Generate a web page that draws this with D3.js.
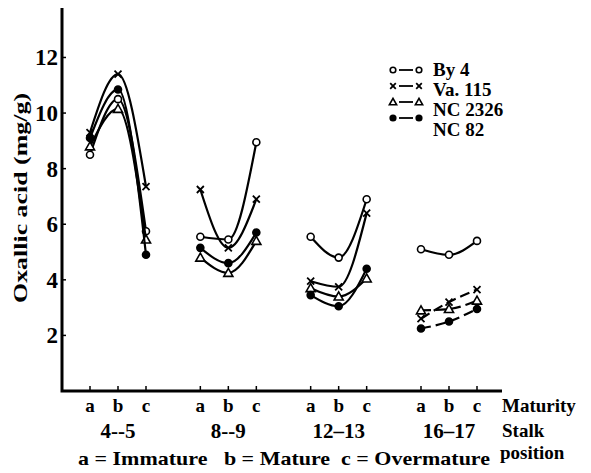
<!DOCTYPE html>
<html>
<head>
<meta charset="utf-8">
<script src="https://cdn.jsdelivr.net/npm/d3@7"></script>
<style>
  body { margin: 0; background: #fff; }
  svg text { font-family: "Liberation Serif", "Times New Roman", serif; font-weight: bold; fill: #000; }
</style>
</head>
<body>
<div id="chart"></div>
<script>
// stalk position groups and maturity stages
const groups = ["4--5", "8--9", "12\u201313", "16\u201317"];
const maturity = ["a", "b", "c"];
const yTicks = [2, 4, 6, 8, 10, 12];

// oxallic acid (mg/g), per group a,b,c
const by4    = [8.5, 10.5, 5.75,  5.55, 5.45, 8.95,  5.55, 4.8, 6.9,   5.1, 4.9, 5.4];
const va115  = [9.3, 11.4, 7.35,  7.25, 5.15, 6.9,   3.95, 3.75, 6.4,  2.6, 3.2, 3.65];
const nc2326 = [8.8, 10.15, 5.45, 4.8, 4.25, 5.4,    3.7, 3.4, 4.05,   2.9, 2.95, 3.25];
const nc82   = [9.1, 10.85, 4.9,  5.15, 4.6, 5.7,    3.45, 3.05, 4.4,  2.25, 2.5, 2.95];

const series = [
  {name: "By 4", values: by4, marker: "circle"},
  {name: "Va. 115", values: va115, marker: "cross"},
  {name: "NC 2326", values: nc2326, marker: "triangle"},
  {name: "NC 82", values: nc82, marker: "dot"}
];

const width = 591, height = 473;
const svg = d3.select("#chart").append("svg")
  .attr("width", width)
  .attr("height", height);

const xGroup = d3.scalePoint().domain(groups).range([118, 449]);
const xStage = d3.scalePoint().domain(maturity).range([-28, 28]);
const y = d3.scaleLinear().domain([0, 13.78]).range([391, 8]);
const x = (g, m) => xGroup(g) + xStage(m);

// axes
svg.append("path")
  .attr("d", `M62,8 L62,391 L502,391`)
  .attr("fill", "none")
  .attr("stroke", "#000")
  .attr("stroke-width", 3);

svg.selectAll(".ytick").data(yTicks).enter().append("line")
  .attr("x1", 62).attr("x2", 66)
  .attr("y1", d => y(d)).attr("y2", d => y(d))
  .attr("stroke", "#000").attr("stroke-width", 1.5);

svg.selectAll(".ylab").data(yTicks).enter().append("text")
  .attr("x", 58).attr("y", d => y(d) + 8)
  .attr("text-anchor", "end")
  .attr("font-size", 23)
  .text(d => d);

svg.append("text")
  .attr("transform", "translate(27,198) rotate(-90)")
  .attr("text-anchor", "middle")
  .attr("font-size", 19)
  .attr("textLength", 210)
  .attr("lengthAdjust", "spacingAndGlyphs")
  .text("Oxallic acid (mg/g)");

const cells = [];
groups.forEach(g => maturity.forEach(m => cells.push({g, m})));

svg.selectAll(".xtick").data(cells).enter().append("line")
  .attr("x1", d => x(d.g, d.m)).attr("x2", d => x(d.g, d.m))
  .attr("y1", 391).attr("y2", 386)
  .attr("stroke", "#000").attr("stroke-width", 1.5);

svg.selectAll(".xlab").data(cells).enter().append("text")
  .attr("x", d => x(d.g, d.m)).attr("y", 412)
  .attr("text-anchor", "middle")
  .attr("font-size", 19)
  .text(d => d.m);

svg.selectAll(".glab").data(groups).enter().append("text")
  .attr("x", d => xGroup(d)).attr("y", 438)
  .attr("text-anchor", "middle")
  .attr("font-size", 21)
  .text(d => d);

svg.append("text").attr("x", 502).attr("y", 412).attr("font-size", 19).text("Maturity");
svg.append("text").attr("x", 502).attr("y", 437).attr("font-size", 19).text("Stalk");
svg.append("text").attr("x", 500).attr("y", 459).attr("font-size", 19).text("position");
svg.append("text").attr("x", 78).attr("y", 465).attr("font-size", 19)
  .attr("xml:space", "preserve")
  .attr("textLength", 412)
  .attr("lengthAdjust", "spacingAndGlyphs")
  .text("a = Immature   b = Mature  c = Overmature");

// lines, one curve per group per series
const line = d3.line()
  .x(d => x(d.g, d.m))
  .y(d => y(d.v))
  .curve(d3.curveMonotoneX);

function drawMarker(sel, type, cx, cy, r = 3.5) {
  if (type === "circle" || type === "dot") {
    sel.append("circle").attr("cx", cx).attr("cy", cy).attr("r", r)
      .attr("fill", type === "dot" ? "#000" : "#fff")
      .attr("stroke", "#000").attr("stroke-width", 1.6);
  } else if (type === "cross") {
    sel.append("path")
      .attr("d", `M${cx - r},${cy - r}L${cx + r},${cy + r}M${cx - r},${cy + r}L${cx + r},${cy - r}`)
      .attr("stroke", "#000").attr("stroke-width", 1.8);
  } else {
    const t = r * 1.3;
    sel.append("path")
      .attr("d", `M${cx},${cy - t}L${cx + t},${cy + r}L${cx - t},${cy + r}Z`)
      .attr("fill", "#fff").attr("stroke", "#000").attr("stroke-width", 1.6);
  }
}

series.forEach((s, si) => {
  groups.forEach((g, gi) => {
    const pts = maturity.map((m, mi) => ({g, m, v: s.values[gi * 3 + mi]}));
    svg.append("path")
      .attr("d", line(pts))
      .attr("fill", "none")
      .attr("stroke", "#000")
      .attr("stroke-width", 2.2)
      .attr("stroke-dasharray", (gi === 3 && si > 0) ? "10,5" : null);
    const mg = svg.append("g");
    pts.forEach(p => drawMarker(mg, s.marker, x(p.g, p.m), y(p.v)));
  });
});

// legend
const legMarkY = [70, 86, 102, 118];
const legTextY = [70, 90, 110, 130];
series.forEach((s, i) => {
  const lg = svg.append("g");
  lg.append("line")
    .attr("x1", 399).attr("x2", 413)
    .attr("y1", legMarkY[i]).attr("y2", legMarkY[i])
    .attr("stroke", "#000").attr("stroke-width", 1.8);
  drawMarker(lg, s.marker, 393, legMarkY[i], 2.8);
  drawMarker(lg, s.marker, 419, legMarkY[i], 2.8);
  lg.append("text")
    .attr("x", 433).attr("y", legTextY[i] + 6)
    .attr("font-size", 19)
    .text(s.name);
});
</script>
</body>
</html>
